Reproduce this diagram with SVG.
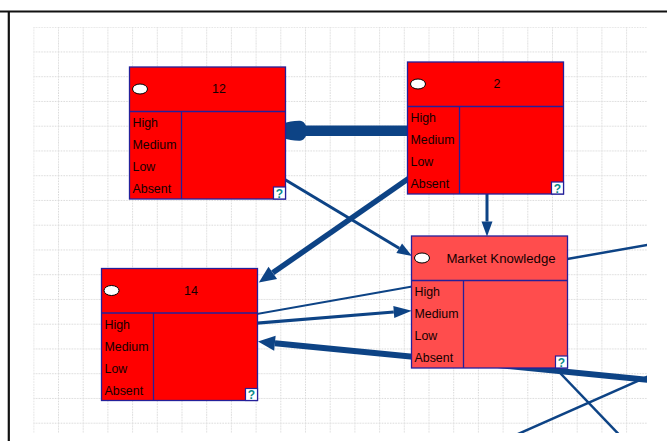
<svg xmlns="http://www.w3.org/2000/svg" width="667" height="441" viewBox="0 0 667 441">
  <style>
    .frame { stroke: #111; stroke-width: 2.2; fill: none; }
    .conn { stroke: #0d4385; fill: none; stroke-linecap: butt; }
    .box { stroke: #24209a; stroke-width: 1.3; }
    .hot { fill: #ff0000; }
    .warm { fill: #ff4d4d; }
    .div { stroke: #24209a; stroke-width: 1.3; fill: none; }
    .dot { fill: #ffffff; stroke: #000000; stroke-width: 1; }
    .title { font-family: "Liberation Sans", Arial, sans-serif; font-size: 12.4px; fill: #140000; text-anchor: middle; }
    .state { font-family: "Liberation Sans", Arial, sans-serif; font-size: 12.4px; fill: #140000; }
    .qbox { fill: #ffffff; stroke: #24209a; stroke-width: 1.2; }
    .q { font-family: "Liberation Sans", Arial, sans-serif; font-size: 12px; font-weight: bold; fill: #0a8a8a; text-anchor: middle; }
  </style>
  <defs>
    <pattern id="grid" x="33.3" y="26.7" width="24.7" height="24.75" patternUnits="userSpaceOnUse">
      <path d="M0 0.5 H24.7 M0.5 0 V24.75" stroke="#d9d9d9" stroke-width="1" stroke-dasharray="1.5 1.2" fill="none"/>
    </pattern>
    <clipPath id="canvas">
      <rect x="33" y="27" width="614" height="406"/>
    </clipPath>
    <marker id="arr" markerUnits="userSpaceOnUse" markerWidth="30" markerHeight="30" refX="0" refY="0" orient="auto" overflow="visible">
      <path d="M0 -5.5 L15 0 L0 5.5 Z" fill="#0d4385"/>
    </marker>
    <marker id="arrLong" markerUnits="userSpaceOnUse" markerWidth="30" markerHeight="30" refX="0" refY="0" orient="auto" overflow="visible">
      <path d="M0 -6 L18 0 L0 6 Z" fill="#0d4385"/>
    </marker>
    <marker id="arrBig" markerUnits="userSpaceOnUse" markerWidth="30" markerHeight="30" refX="0" refY="0" orient="auto" overflow="visible">
      <path d="M0 -7.5 L17 0 L0 7.5 Z" fill="#0d4385"/>
    </marker>
    <marker id="blob" markerUnits="userSpaceOnUse" markerWidth="40" markerHeight="40" refX="0" refY="0" orient="auto" overflow="visible">
      <path d="M0 -5.2 C2 -9 4 -10 7 -10 C13 -10 18 -9 22 -7.5 L24 -7 L24 7 L22 7.5 C18 9 13 10 7 10 C4 10 2 9 0 5.2 Z" fill="#0d4385"/>
    </marker>
  </defs>

  <rect width="667" height="441" fill="#ffffff"/>

  <!-- window frame -->
  <path class="frame" d="M0 11.5 H667 M8.8 11.5 V441"/>

  <g clip-path="url(#canvas)">
    <!-- background grid -->
    <rect x="33.3" y="26.7" width="613.7" height="406.3" fill="url(#grid)"/>

    <!-- links -->
    <g id="connectors">
      <line class="conn" x1="410" y1="130.8" x2="306" y2="130.8" stroke-width="10.5" marker-end="url(#blob)"/>
      <line class="conn" x1="284" y1="179" x2="399.2" y2="248.3" stroke-width="3" marker-end="url(#arr)"/>
      <line class="conn" x1="410" y1="177.5" x2="272.8" y2="272.8" stroke-width="5.5" marker-end="url(#arrBig)"/>
      <line class="conn" x1="487" y1="192" x2="487" y2="221.5" stroke-width="3" marker-end="url(#arr)"/>
      <line class="conn" x1="250" y1="315.2" x2="415" y2="286" stroke-width="2.2"/>
      <line class="conn" x1="250" y1="323.7" x2="393.8" y2="312.1" stroke-width="3" marker-end="url(#arrLong)"/>
      <line class="conn" x1="665" y1="381.5" x2="274.9" y2="343.2" stroke-width="6" marker-end="url(#arrBig)"/>
      <line class="conn" x1="560" y1="260.3" x2="665" y2="241.8" stroke-width="2.5"/>
      <line class="conn" x1="540" y1="352" x2="630" y2="446" stroke-width="2.5"/>
      <line class="conn" x1="660" y1="371" x2="500" y2="442" stroke-width="2.5"/>
    </g>

    <!-- node 12 -->
    <g id="node-12" transform="translate(129.5 67)">
      <rect class="box hot" width="156" height="132"/>
      <path class="div" d="M0 44.5 H156 M52 44.5 V132"/>
      <ellipse class="dot" cx="10.5" cy="22" rx="7.5" ry="5"/>
      <text class="title" x="89.5" y="26">12</text>
      <text class="state" x="3" y="60">High</text>
      <text class="state" x="3" y="82">Medium</text>
      <text class="state" x="3" y="104">Low</text>
      <text class="state" x="3" y="126">Absent</text>
      <rect class="qbox" x="144" y="120" width="12" height="12"/>
      <text class="q" x="150" y="130.8">?</text>
    </g>

    <!-- node 2 -->
    <g id="node-2" transform="translate(407.5 62)">
      <rect class="box hot" width="156" height="132"/>
      <path class="div" d="M0 44.5 H156 M52 44.5 V132"/>
      <ellipse class="dot" cx="10.5" cy="22" rx="7.5" ry="5"/>
      <text class="title" x="89.5" y="26">2</text>
      <text class="state" x="3" y="60">High</text>
      <text class="state" x="3" y="82">Medium</text>
      <text class="state" x="3" y="104">Low</text>
      <text class="state" x="3" y="126">Absent</text>
      <rect class="qbox" x="144" y="120" width="12" height="12"/>
      <text class="q" x="150" y="130.8">?</text>
    </g>

    <!-- node 14 -->
    <g id="node-14" transform="translate(101.5 268.5)">
      <rect class="box hot" width="156" height="132"/>
      <path class="div" d="M0 44.5 H156 M52 44.5 V132"/>
      <ellipse class="dot" cx="10" cy="22" rx="7.5" ry="5"/>
      <text class="title" x="89.5" y="26">14</text>
      <text class="state" x="3" y="60">High</text>
      <text class="state" x="3" y="82">Medium</text>
      <text class="state" x="3" y="104">Low</text>
      <text class="state" x="3" y="126">Absent</text>
      <rect class="qbox" x="144" y="120" width="12" height="12"/>
      <text class="q" x="150" y="130.8">?</text>
    </g>

    <!-- node Market Knowledge -->
    <g id="node-market-knowledge" transform="translate(411.5 236)">
      <rect class="box warm" width="156" height="132"/>
      <path class="div" d="M0 44.5 H156 M52 44.5 V132"/>
      <ellipse class="dot" cx="10.5" cy="22" rx="7.5" ry="5"/>
      <text class="title" x="89.5" y="26.5" style="font-size:13.2px">Market Knowledge</text>
      <text class="state" x="3" y="60">High</text>
      <text class="state" x="3" y="82">Medium</text>
      <text class="state" x="3" y="104">Low</text>
      <text class="state" x="3" y="126">Absent</text>
      <rect class="qbox" x="144" y="120" width="12" height="12"/>
      <text class="q" x="150" y="130.8">?</text>
    </g>
  </g>
</svg>
